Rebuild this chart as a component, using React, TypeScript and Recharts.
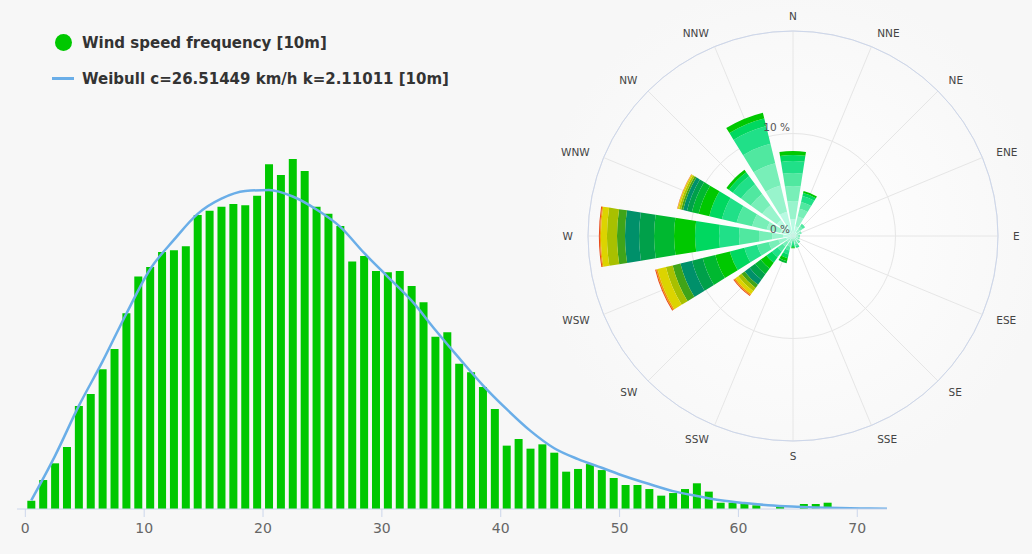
import React from 'react';
import {
  ComposedChart, Bar, Line, XAxis, YAxis, CartesianGrid, Legend,
  RadialBarChart, RadialBar, PolarGrid, PolarAngleAxis, PolarRadiusAxis,
} from 'recharts';

const FONT = '"DejaVu Sans", Verdana, sans-serif';
const BG = '#f7f7f7';

// ---------- Histogram (1 km/h bins, centred on 0.5, 1.5, ...) ----------
const frequency = [
  0.077, 0.267, 0.421, 0.571, 0.949, 1.060, 1.287, 1.475, 1.803, 2.144,
  2.230, 2.369, 2.384, 2.421, 2.710, 2.750, 2.786, 2.811, 2.799, 2.888,
  3.177, 3.078, 3.226, 3.115, 2.786, 2.722, 2.608, 2.280, 2.332, 2.194,
  2.181, 2.194, 2.055, 1.905, 1.588, 1.628, 1.339, 1.260, 1.124, 0.922,
  0.584, 0.645, 0.556, 0.596, 0.519, 0.344, 0.369, 0.414, 0.359, 0.286,
  0.221, 0.221, 0.184, 0.123, 0.147, 0.184, 0.237, 0.160, 0.058, 0.058,
  0.046, 0.034, 0, 0.020, 0, 0.046, 0.046, 0.058, 0, 0.005,
];
// Weibull curve read every 2 km/h, starting at 0.5 km/h
const weibull = [
  0.08, 0.49, 0.95, 1.36, 1.80, 2.21, 2.48, 2.72, 2.86, 2.93,
  2.94, 2.88, 2.76, 2.60, 2.36, 2.14, 1.92, 1.65, 1.39, 1.14,
  0.92, 0.72, 0.56, 0.46, 0.38, 0.30, 0.23, 0.165, 0.12, 0.08,
  0.055, 0.035, 0.022, 0.014, 0.009, 0.005, 0.003,
];
const xTicks = [0, 10, 20, 30, 40, 50, 60, 70];
const yTicks = [0, 1, 2, 3];

const histRows: any[] = [];
for (let i = 0; i < 73; i++) {
  histRows.push({
    x: i + 0.5,
    freq: frequency[i],
    wb: i % 2 === 0 ? weibull[i / 2] : undefined,
  });
}

// ---------- Wind rose ----------
const directions = ['N', 'NNE', 'NE', 'ENE', 'E', 'ESE', 'SE', 'SSE', 'S', 'SSW', 'SW', 'WSW', 'W', 'WNW', 'NW', 'NNW'];
const roseC1 = [1.66, 0.98, 0.49, 0.39, 0.29, 0.29, 0.29, 0.25, 0.15, 0.29, 0.39, 0.68, 0.98, 1.27, 1.95, 2.44];
const roseC2 = [1.76, 0.98, 0.39, 0.29, 0.20, 0.20, 0.29, 0.25, 0.15, 0.39, 0.39, 0.78, 1.07, 1.37, 1.76, 2.63];
const roseC3 = [1.46, 0.78, 0.29, 0.20, 0.20, 0.20, 0.20, 0.29, 0.20, 0.39, 0.49, 0.98, 1.27, 1.46, 1.37, 2.24];
const roseC4 = [1.27, 0.68, 0.29, 0, 0, 0, 0.10, 0.20, 0.20, 0.39, 0.59, 1.17, 1.95, 1.56, 1.17, 1.95];
const roseC5 = [1.17, 0.59, 0, 0, 0, 0, 0, 0.20, 0.20, 0.39, 0.68, 1.27, 1.95, 1.46, 0.98, 1.76];
const roseC6 = [0.59, 0.29, 0, 0, 0, 0, 0, 0, 0.20, 0.39, 0.68, 1.46, 2.34, 1.27, 0.49, 0.78];
const roseC7 = [0.39, 0.20, 0, 0, 0, 0, 0, 0, 0.10, 0.29, 0.68, 1.46, 2.05, 1.07, 0.29, 0.59];
const roseC8 = [0, 0, 0, 0, 0, 0, 0, 0, 0, 0.20, 0.68, 1.27, 1.95, 0.68, 0, 0];
const roseC9 = [0, 0, 0, 0, 0, 0, 0, 0, 0, 0, 0.68, 1.07, 1.46, 0.49, 0, 0];
const roseC10 = [0, 0, 0, 0, 0, 0, 0, 0, 0, 0, 0.59, 1.17, 1.37, 0.39, 0, 0];
const roseC11 = [0, 0, 0, 0, 0, 0, 0, 0, 0, 0, 0.39, 0.78, 0.78, 0.20, 0, 0];
const roseC12 = [0, 0, 0, 0, 0, 0, 0, 0, 0, 0, 0.39, 0.68, 0.98, 0.20, 0, 0];
const roseC13 = [0, 0, 0, 0, 0, 0, 0, 0, 0, 0, 0.34, 0.83, 0.59, 0.13, 0, 0];
const roseC14 = [0, 0, 0, 0, 0, 0, 0, 0, 0, 0, 0.15, 0.15, 0.10, 0.04, 0, 0];
const roseC15 = [0, 0, 0, 0, 0, 0, 0, 0, 0, 0, 0.10, 0.10, 0.10, 0.03, 0, 0];
const roseBins = [roseC1, roseC2, roseC3, roseC4, roseC5, roseC6, roseC7, roseC8, roseC9, roseC10, roseC11, roseC12, roseC13, roseC14, roseC15];
const roseBinNames = ['0-2 km/h', '2-5 km/h', '5-10 km/h', '10-15 km/h', '15-20 km/h', '20-25 km/h', '25-30 km/h', '30-35 km/h', '35-40 km/h', '40-45 km/h', '45-50 km/h', '50-55 km/h', '55-60 km/h', '60-65 km/h', '>65 km/h'];
const roseColors = ['#b8fae2', '#98f4cc', '#78efb8', '#50e8a0', '#20e088', '#00d860', '#00c800', '#00b830', '#00a04a', '#00906a', '#40a418', '#a8c000', '#dcd400', '#f0a000', '#e84a1a'];

const roseRows = directions.map((d, i) => {
  const r: any = { dir: d };
  roseBins.forEach((arr, k) => { r['s' + k] = arr[i]; });
  return r;
});

const renderLegend = (props: any) => {
  const payload = [...(props.payload || [])].sort((a: any, b: any) => (a.type === 'circle' ? -1 : 0) - (b.type === 'circle' ? -1 : 0));
  return (
    <div style={{ position: 'relative', width: 480, height: 100, fontFamily: FONT, fontWeight: 'bold', fontSize: 15, color: '#333' }}>
      {payload.map((p: any, i: number) => {
        const top = i === 0 ? 34 : 69.6;
        const centre = top + 8.7;
        return (
          <div key={i}>
            {p.type === 'circle' ? (
              <div style={{ position: 'absolute', left: 55, top: centre - 8.5, width: 17, height: 17, borderRadius: '50%', background: p.color }} />
            ) : (
              <div style={{ position: 'absolute', left: 52, top: centre - 1.25, width: 22, height: 2.5, background: p.color }} />
            )}
            <div style={{ position: 'absolute', left: 82, top, lineHeight: '18px', whiteSpace: 'nowrap' }}>{p.value}</div>
          </div>
        );
      })}
    </div>
  );
};

const DirTick = (p: any) => (
  <text x={p.x} y={p.y} textAnchor={p.textAnchor} dominantBaseline="central" fontSize={10.5} fill="#444" fontFamily={FONT}>
    {p.payload.value}
  </text>
);

const PctTick = (p: any) => {
  if (p.payload.value === 20) return <g />;
  return (
    <text x={p.x - 3} y={p.y - 7} textAnchor="end" dominantBaseline="central" fontSize={10.5} fill="#555" fontFamily={FONT}>
      {p.payload.value} %
    </text>
  );
};

const POLAR_W = 480;
const POLAR_H = 480;
const POLAR_CX = 240;
const POLAR_CY = 236;
const POLAR_R = 205;

export default function App() {
  return (
    <div style={{ position: 'absolute', left: 0, top: 0, width: 1032, height: 554, background: BG, overflow: 'hidden', fontFamily: FONT }}>
      <div style={{ position: 'absolute', left: 0, top: 0 }}>
        <ComposedChart width={1032} height={554} data={histRows} margin={{ top: 75, right: 145, bottom: 15, left: 17 }}>
          <CartesianGrid vertical={false} stroke="#e6e6e6" {...({ horizontalValues: [1, 2, 3] } as any)} />
          <XAxis
            dataKey="x" type="number" domain={[-0.7, 72.5]} allowDataOverflow ticks={xTicks}
            stroke="#ccd6eb" tickSize={8} tickMargin={6} height={30}
            tick={{ fill: '#666', fontSize: 14, fontFamily: FONT }}
          />
          <YAxis type="number" domain={[0, 4]} ticks={yTicks} allowDataOverflow width={0} tick={false} axisLine={false} tickLine={false} />
          <Legend layout="vertical" align="center" verticalAlign="middle" content={renderLegend} wrapperStyle={{ left: 0, top: 0, width: 480, height: 100 }} />
          <Bar dataKey="freq" name="Wind speed frequency [10m]" fill="#00c800" barSize={8} legendType="circle" isAnimationActive={false} />
          <Line dataKey="wb" name="Weibull c=26.51449 km/h k=2.11011 [10m]" type="monotone" stroke="#6aaee8" strokeWidth={2.5} dot={false} activeDot={false} connectNulls legendType="plainline" isAnimationActive={false} />
        </ComposedChart>
      </div>
      <svg width={1032} height={554} style={{ position: 'absolute', left: 0, top: 0 }}>
        <defs>
          <radialGradient id="paneBg" cx="793" cy="236" r="255" gradientUnits="userSpaceOnUse">
            <stop offset="0" stopColor="#ffffff" />
            <stop offset="1" stopColor={BG} />
          </radialGradient>
        </defs>
        <circle cx={793} cy={236} r={255} fill="url(#paneBg)" />
      </svg>
      {/* polar grid, compass labels and outer ring */}
      <div style={{ position: 'absolute', left: 553, top: 0 }}>
        <RadialBarChart
          width={POLAR_W} height={POLAR_H} cx={POLAR_CX} cy={POLAR_CY} innerRadius={0} outerRadius={POLAR_R}
          startAngle={90} endAngle={-270} layout="centric" data={roseRows}
          margin={{ top: 0, right: 0, bottom: 0, left: 0 }}
        >
          <PolarGrid gridType="circle" stroke="#e6e6e6" />
          <PolarAngleAxis dataKey="dir" type="category" stroke="#ccd6eb" axisLineType="circle" tickLine={false} tickSize={15} tick={DirTick} />
          <PolarRadiusAxis type="number" domain={[0, 20]} allowDataOverflow tickCount={3} angle={90} axisLine={false} tickLine={false} tick={false} />
        </RadialBarChart>
      </div>
      {/* stacked wind-rose bars, rotated half a sector so each bar is centred on its direction */}
      <div style={{ position: 'absolute', left: 553, top: 0 }}>
        <RadialBarChart
          width={POLAR_W} height={POLAR_H} cx={POLAR_CX} cy={POLAR_CY} innerRadius={0} outerRadius={POLAR_R}
          startAngle={78.75} endAngle={-281.25} layout="centric" data={roseRows} barCategoryGap="11%"
          margin={{ top: 0, right: 0, bottom: 0, left: 0 }}
        >
          <PolarAngleAxis dataKey="dir" type="category" axisLine={false} tickLine={false} tick={false} />
          {roseBins.map((_, k) => (
            <RadialBar key={k} dataKey={'s' + k} name={roseBinNames[k]} stackId="rose" fill={roseColors[k]} isAnimationActive={false} />
          ))}
          <PolarRadiusAxis type="number" domain={[0, 20]} allowDataOverflow tickCount={3} angle={90} axisLine={false} tickLine={false} tick={PctTick} />
        </RadialBarChart>
      </div>
    </div>
  );
}
